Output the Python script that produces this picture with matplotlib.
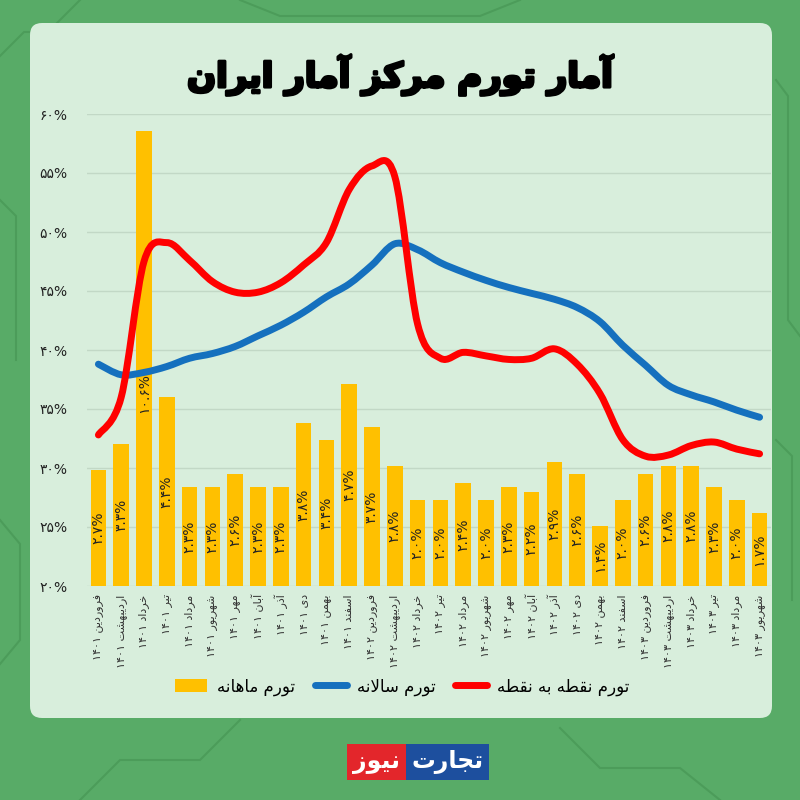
import matplotlib
matplotlib.use("Agg")
import matplotlib.pyplot as plt
import matplotlib.patheffects as pe
import numpy as np
from matplotlib.path import Path
from matplotlib.patches import PathPatch, FancyBboxPatch, Rectangle, Patch
from matplotlib.lines import Line2D

plt.rcParams["font.family"] = ["DejaVu Sans"]

months = ["فروردین", "اردیبهشت", "خرداد", "تیر", "مرداد", "شهریور",
          "مهر", "آبان", "آذر", "دی", "بهمن", "اسفند"]
years = ["1401", "1402", "1403"]

# monthly inflation (bars, %)
monthly = [2.7, 3.3, 10.6, 4.4, 2.3, 2.3, 2.6, 2.3, 2.3, 3.8, 3.4, 4.7,
           3.7, 2.8, 2.0, 2.0, 2.4, 2.0, 2.3, 2.2, 2.9, 2.6, 1.4, 2.0,
           2.6, 2.8, 2.8, 2.3, 2.0, 1.7]
# annual inflation (blue)
annual = [38.8, 37.9, 38.1, 38.6, 39.3, 39.7, 40.3, 41.2, 42.1, 43.2, 44.5, 45.6,
          47.2, 49.0, 48.5, 47.4, 46.6, 45.9, 45.3, 44.8, 44.3, 43.6, 42.4, 40.4,
          38.7, 37.0, 36.2, 35.6, 34.9, 34.3]
# point-to-point inflation (red)
point_to_point = [32.8, 36.0, 47.5, 49.1, 47.6, 45.8, 44.9, 44.9, 45.7, 47.2, 49.1, 53.6,
                  55.6, 54.7, 42.2, 39.3, 39.8, 39.5, 39.2, 39.3, 40.1, 38.8, 36.3, 32.4,
                  31.0, 31.1, 31.9, 32.2, 31.6, 31.2]
y_ticks = [20, 25, 30, 35, 40, 45, 50, 55, 60]

title = "آمار تورم مرکز آمار ایران"
legend_labels = ["تورم ماهانه", "تورم سالانه", "تورم نقطه به نقطه"]

# arabic presentation forms: isolated, final, initial, medial
FORMS = {
    "ا": (0xFE8D, 0xFE8E, None, None),
    "آ": (0xFE81, 0xFE82, None, None),
    "ب": (0xFE8F, 0xFE90, 0xFE91, 0xFE92),
    "ت": (0xFE95, 0xFE96, 0xFE97, 0xFE98),
    "ج": (0xFE9D, 0xFE9E, 0xFE9F, 0xFEA0),
    "خ": (0xFEA5, 0xFEA6, 0xFEA7, 0xFEA8),
    "د": (0xFEA9, 0xFEAA, None, None),
    "ذ": (0xFEAB, 0xFEAC, None, None),
    "ر": (0xFEAD, 0xFEAE, None, None),
    "ز": (0xFEAF, 0xFEB0, None, None),
    "س": (0xFEB1, 0xFEB2, 0xFEB3, 0xFEB4),
    "ش": (0xFEB5, 0xFEB6, 0xFEB7, 0xFEB8),
    "ط": (0xFEC1, 0xFEC2, 0xFEC3, 0xFEC4),
    "ف": (0xFED1, 0xFED2, 0xFED3, 0xFED4),
    "ق": (0xFED5, 0xFED6, 0xFED7, 0xFED8),
    "ک": (0xFB8E, 0xFB8F, 0xFB90, 0xFB91),
    "ل": (0xFEDD, 0xFEDE, 0xFEDF, 0xFEE0),
    "م": (0xFEE1, 0xFEE2, 0xFEE3, 0xFEE4),
    "ن": (0xFEE5, 0xFEE6, 0xFEE7, 0xFEE8),
    "ه": (0xFEE9, 0xFEEA, 0xFEEB, 0xFEEC),
    "و": (0xFEED, 0xFEEE, None, None),
    "ی": (0xFBFC, 0xFBFD, 0xFBFE, 0xFBFF),
}


def shape(word):
    out = []
    i = 0
    n = len(word)

    def fwd(c):
        return c in FORMS and FORMS[c][2] is not None

    while i < n:
        c = word[i]
        if c not in FORMS:
            out.append(c)
            i += 1
            continue
        p = i > 0 and fwd(word[i - 1])
        if c == "ل" and i + 1 < n and word[i + 1] == "ا":
            out.append(chr(0xFEFC if p else 0xFEFB))
            i += 2
            continue
        q = fwd(c) and i + 1 < n and word[i + 1] in FORMS
        iso, fin, ini, med = FORMS[c]
        form = med if (p and q) else fin if p else ini if q else iso
        out.append(chr(form))
        i += 1
    return "".join(out)


def fa_digits(s):
    return s.translate(str.maketrans("0123456789", "۰۱۲۳۴۵۶۷۸۹"))


def fa(text):
    tokens = []
    for tok in fa_digits(text).split(" "):
        if any(ch in FORMS for ch in tok):
            tokens.append(shape(tok)[::-1])
        else:
            tokens.append(tok)
    return " ".join(tokens[::-1])


def smooth_path(xs, ys):
    pts = np.column_stack([xs, ys]).astype(float)
    n = len(pts)
    verts = [pts[0]]
    codes = [Path.MOVETO]
    for i in range(n - 1):
        p0 = pts[max(i - 1, 0)]
        p1 = pts[i]
        p2 = pts[i + 1]
        p3 = pts[min(i + 2, n - 1)]
        verts += [p1 + (p2 - p0) / 6, p2 - (p3 - p1) / 6, p2]
        codes += [Path.CURVE4] * 3
    return Path(verts, codes)


period_labels = [f"{m} {y}" for y in years for m in months][:len(monthly)]
x = np.arange(len(monthly))

BAR = "#FFC000"
BLUE = "#1570BE"
RED = "#FF0000"

fig = plt.figure(figsize=(8, 8), dpi=100)
fig.patch.set_facecolor("#58ab67")

# a few faint circuit traces in the green frame
trace = dict(color="#4c9c5a", lw=1.5, transform=fig.transFigure, zorder=-6)
for xs, ys in [([0.0, 0.03, 0.06, 0.1], [0.93, 0.96, 0.96, 1.0]),
               ([0.0, 0.02, 0.02], [0.75, 0.73, 0.55]),
               ([0.0, 0.025, 0.025, 0.0], [0.35, 0.32, 0.2, 0.17]),
               ([0.97, 0.985, 0.985, 1.0], [0.9, 0.88, 0.6, 0.58]),
               ([0.97, 0.99, 0.99], [0.45, 0.43, 0.25]),
               ([0.1, 0.15, 0.25, 0.3], [0.0, 0.05, 0.05, 0.1]),
               ([0.7, 0.75, 0.85, 0.9], [0.09, 0.04, 0.04, 0.0]),
               ([0.3, 0.35, 0.6, 0.65], [1.0, 0.98, 0.98, 1.0])]:
    fig.lines.append(Line2D(xs, ys, **trace))

panel = FancyBboxPatch((0.0375, 0.1025), 0.9275, 0.86875,
                       boxstyle="round,pad=0,rounding_size=0.015",
                       transform=fig.transFigure, facecolor="#d8eedc",
                       edgecolor="none", zorder=-5)
fig.patches.append(panel)

ax = fig.add_axes([0.10875, 0.2675, 0.855, 0.59])
ax.patch.set_visible(False)
ax.set_xlim(-0.5, len(monthly) - 0.5)
ax.set_ylim(20, 60)
ax.set_yticks(y_ticks)
ax.set_yticklabels([fa_digits(f"{t}%") for t in y_ticks], fontsize=10, color="#222222")
ax.set_xticks(x)
ax.set_xticklabels([fa(l) for l in period_labels], rotation=90, fontsize=8,
                   color="#333333", va="top")
ax.tick_params(length=0)
ax.tick_params(axis="y", pad=14)
ax.tick_params(axis="x", pad=6)
ax.grid(axis="y", color="#c2d8c6", linewidth=1)
for s in ax.spines.values():
    s.set_visible(False)

ax_bar = ax.twinx()
ax_bar.set_ylim(0, 11)
ax_bar.bar(x, monthly, width=0.68, color=BAR)
for i, v in enumerate(monthly):
    ax_bar.text(i, min(v / 2, 4.5), fa_digits(f"{v:.1f}%"), rotation=90,
                ha="center", va="center", fontsize=10, color="#222222")
ax_bar.yaxis.set_visible(False)

ax_line = ax.twinx()
ax_line.set_ylim(20, 60)
ax_line.yaxis.set_visible(False)
ax_line.add_patch(PathPatch(smooth_path(x, annual), facecolor="none", edgecolor=BLUE,
                            lw=5, capstyle="round", joinstyle="round"))
ax_line.add_patch(PathPatch(smooth_path(x, point_to_point), facecolor="none", edgecolor=RED,
                            lw=5, capstyle="round", joinstyle="round"))

for a in (ax_bar, ax_line):
    for s in a.spines.values():
        s.set_visible(False)

handles = [Patch(facecolor=BAR),
           Line2D([], [], color=BLUE, lw=5, solid_capstyle="round"),
           Line2D([], [], color=RED, lw=5, solid_capstyle="round")]
ax_line.legend(handles, [fa(l) for l in legend_labels], ncol=3, loc="center",
               bbox_to_anchor=(0.503, 0.142), bbox_transform=fig.transFigure,
               frameon=False, fontsize=12, handlelength=1.9, handleheight=0.9,
               columnspacing=1.2, handletextpad=0.6)

fig.text(0.5, 0.906, fa(title), fontsize=24.5, fontweight="bold",
         ha="center", va="center", color="black",
         path_effects=[pe.withStroke(linewidth=2.2, foreground="black")])

# logo
fig.patches.append(Rectangle((0.43375, 0.025), 0.07375, 0.045, transform=fig.transFigure,
                             facecolor="#e3262b", edgecolor="none"))
fig.patches.append(Rectangle((0.5075, 0.025), 0.10375, 0.045, transform=fig.transFigure,
                             facecolor="#1d4f9e", edgecolor="none"))
fig.text(0.4706, 0.0475, fa("نیوز"), fontsize=17, fontweight="bold", color="white",
         ha="center", va="center")
fig.text(0.5594, 0.0475, fa("تجارت"), fontsize=17, fontweight="bold", color="white",
         ha="center", va="center")

fig.savefig("out.png", dpi=100, facecolor=fig.get_facecolor())
